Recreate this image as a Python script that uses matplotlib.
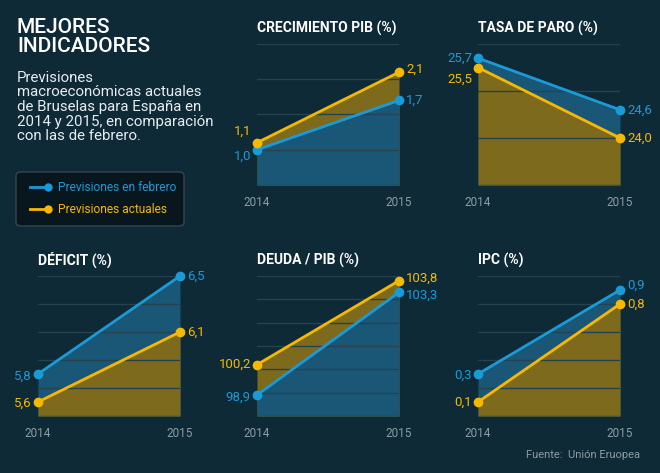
import matplotlib.pyplot as plt
import numpy as np
from matplotlib.patches import FancyBboxPatch
from matplotlib.lines import Line2D

# datos
years = [2014, 2015]
titulos = ["CRECIMIENTO PIB (%)", "TASA DE PARO (%)", "DÉFICIT (%)",
           "DEUDA / PIB (%)", "IPC (%)"]
febrero = [[1.0, 1.7], [25.7, 24.6], [5.8, 6.5], [98.9, 103.3], [0.3, 0.9]]
actuales = [[1.1, 2.1], [25.5, 24.0], [5.6, 6.1], [100.2, 103.8], [0.1, 0.8]]

# colores
FONDO = "#0e2a36"
AZUL = "#1b9ad8"
AMARILLO = "#f6b800"
AZUL_FILL = "#1a5676"
OLIVA_FILL = "#7d6a1c"
REJILLA = "#24434f"
GRIS = "#8c9ca3"

plt.rcParams["font.family"] = ["Roboto", "DejaVu Sans"]

W, H = 660, 473
fig = plt.figure(figsize=(W / 100, H / 100), dpi=100, facecolor=FONDO)

# posicion de cada panel en pixeles: (izq, arriba, der, abajo), limites y paso de rejilla
paneles = [
    ((257, 44, 399, 185), (0.5, 2.5), 0.5),
    ((478, 44, 620, 185), (23, 26), 1.0),
    ((38, 276, 180, 416), (5.5, 6.5), 0.2),
    ((257, 276, 399, 416), (98, 104), 1.0),
    ((478, 276, 620, 416), (0, 1.0), 0.2),
]
# desplazamiento vertical de las etiquetas (px): feb izq, act izq, feb der, act der
desplaz = [
    (-7, 11, 0, 3),
    (0, -12, 0, 0),
    (-2, -1, 0, 0),
    (-2, 0, -3, 2),
    (-1, 0, 5, 0),
]


def fmt(v):
    return f"{v:.1f}".replace(".", ",")


for i, titulo in enumerate(titulos):
    (x0, y0, x1, y1), ylim, paso = paneles[i]
    ax = fig.add_axes([x0 / W, 1 - y1 / H, (x1 - x0) / W, (y1 - y0) / H])
    ax.set_facecolor("none")
    ax.set_xlim(years[0], years[1])
    ax.set_ylim(*ylim)
    ax.set_yticks(np.arange(ylim[0], ylim[1] + paso / 2, paso))
    ax.grid(axis="y", color=REJILLA, lw=1, zorder=0)
    ax.tick_params(axis="y", length=0, labelleft=False)
    ax.set_xticks(years)
    ax.tick_params(axis="x", length=0, pad=8, labelsize=8.5, labelcolor=GRIS)
    for s in ax.spines.values():
        s.set_visible(False)

    feb, act = febrero[i], actuales[i]
    series = [(feb, AZUL, AZUL_FILL), (act, AMARILLO, OLIVA_FILL)]
    # primero el relleno de la serie mas alta
    for vals, _, fc in sorted(series, key=lambda s: -np.mean(s[0])):
        ax.fill_between(years, vals, ylim[0], color=fc, lw=0, zorder=1)
    for vals, c, _ in series:
        ax.plot(years, vals, color=c, lw=2, marker="o", ms=6, zorder=3, clip_on=False)

    d = desplaz[i]
    for k, (vals, c, _) in enumerate(series):
        ax.annotate(fmt(vals[0]), (years[0], vals[0]), xytext=(-6, d[k]),
                    textcoords="offset pixels", ha="right", va="center",
                    color=c, fontsize=9.5)
        ax.annotate(fmt(vals[1]), (years[1], vals[1]), xytext=(7, d[2 + k]),
                    textcoords="offset pixels", ha="left", va="center",
                    color=c, fontsize=9.5)

    fig.text(x0 / W, 1 - (y0 - 16) / H, titulo, color="white", fontsize=10,
             fontweight="bold", ha="left", va="center")

# titulo principal
fig.text(17 / W, 1 - 37 / H, "MEJORES\nINDICADORES", color="white", fontsize=15,
         fontweight="medium", ha="left", va="center", linespacing=0.95)
fig.text(17 / W, 1 - 107 / H,
         "Previsiones\nmacroeconómicas actuales\nde Bruselas para España en\n"
         "2014 y 2015, en comparación\ncon las de febrero.",
         color="#e6ecee", fontsize=10.8, ha="left", va="center", linespacing=1.04)

# leyenda
caja = FancyBboxPatch((16 / W, 1 - 226 / H), 168 / W, 54 / H,
                      boxstyle="round,pad=0,rounding_size=0.008",
                      transform=fig.transFigure, facecolor="#08171d",
                      edgecolor="#34474f", lw=1)
fig.add_artist(caja)
for yy, c, txt in [(187, AZUL, "Previsiones en febrero"),
                   (209, AMARILLO, "Previsiones actuales")]:
    fig.add_artist(Line2D([30 / W, 48 / W], [1 - yy / H] * 2, color=c, lw=2,
                          transform=fig.transFigure))
    fig.add_artist(Line2D([48 / W], [1 - yy / H], color=c, marker="o", ms=5,
                          transform=fig.transFigure))
    fig.text(58 / W, 1 - yy / H, txt, color=c, fontsize=8.6, ha="left", va="center")

fig.text(640 / W, 1 - 455 / H, "Fuente:  Unión Eruopea", color=GRIS, fontsize=8,
         ha="right", va="center")

fig.savefig("out.png", dpi=100, facecolor=FONDO)
